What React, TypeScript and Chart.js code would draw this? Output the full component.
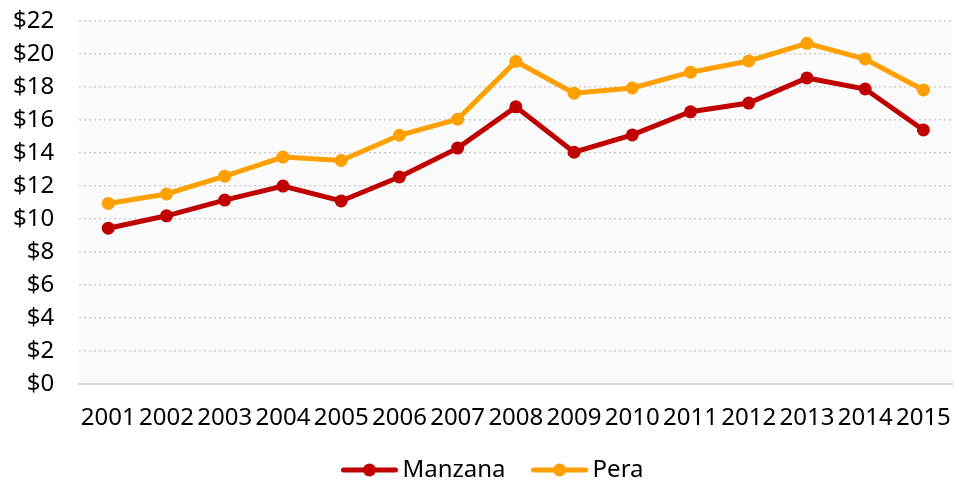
import React, { useEffect, useRef } from "react";
import { Chart, registerables } from "chart.js";

Chart.register(...registerables);

const years = ["2001","2002","2003","2004","2005","2006","2007","2008","2009","2010","2011","2012","2013","2014","2015"];
const manzana = [9.45, 10.2, 11.15, 12.0, 11.1, 12.55, 14.3, 16.8, 14.05, 15.1, 16.5, 17.03, 18.55, 17.88, 15.4];
const pera = [10.95, 11.52, 12.6, 13.76, 13.55, 15.08, 16.05, 19.55, 17.63, 17.94, 18.9, 19.58, 20.65, 19.7, 17.82];
const seriesNames = ["Manzana", "Pera"];
const seriesColors = ["#c00000", "#ffa000"];
const yMax = 22;
const yStep = 2;

const FONT = "'Noto Sans', sans-serif";

const bgPlugin = {
  id: "plotBg",
  beforeDraw(chart: any) {
    const { ctx, chartArea } = chart;
    ctx.save();
    ctx.fillStyle = "#fbfbfb";
    ctx.fillRect(chartArea.left, chartArea.top, chartArea.right - chartArea.left, chartArea.bottom - chartArea.top);
    ctx.restore();
  },
};

const legendPlugin = {
  id: "lineLegend",
  afterDraw(chart: any) {
    const { ctx } = chart;
    const lineW = 56, gapText = 5, gapItem = 26;
    ctx.save();
    ctx.font = `24px ${FONT}`;
    const ds = chart.data.datasets;
    const widths = ds.map((d: any) => ctx.measureText(d.label).width);
    let total = 0;
    ds.forEach((_: any, i: number) => {
      total += lineW + gapText + widths[i] + (i < ds.length - 1 ? gapItem : 0);
    });
    let x = chart.width / 2 + 13 - total / 2;
    const y = 470;
    ds.forEach((d: any, i: number) => {
      ctx.strokeStyle = d.borderColor;
      ctx.lineWidth = 5;
      ctx.lineCap = "round";
      ctx.beginPath();
      ctx.moveTo(x + 2, y);
      ctx.lineTo(x + lineW - 2, y);
      ctx.stroke();
      ctx.fillStyle = d.borderColor;
      ctx.beginPath();
      ctx.arc(x + lineW / 2, y, 6.5, 0, Math.PI * 2);
      ctx.fill();
      ctx.fillStyle = "#000";
      ctx.textBaseline = "middle";
      ctx.textAlign = "left";
      ctx.fillText(d.label, x + lineW + gapText, y);
      x += lineW + gapText + widths[i] + gapItem;
    });
    ctx.restore();
  },
};

export default function App() {
  const ref = useRef<HTMLCanvasElement>(null);
  useEffect(() => {
    document.body.style.margin = "0";
    const chart = new Chart(ref.current!, {
      type: "line",
      data: {
        labels: years,
        datasets: [manzana, pera].map((d, i) => ({
          label: seriesNames[i],
          data: d,
          borderColor: seriesColors[i],
          backgroundColor: seriesColors[i],
          borderWidth: 5,
          pointRadius: 6.5,
          pointHoverRadius: 6.5,
          pointBorderWidth: 0,
          tension: 0,
        })),
      },
      options: {
        animation: false,
        responsive: true,
        maintainAspectRatio: false,
        layout: { padding: { left: -12, right: 5, top: 21, bottom: 37 } },
        font: { family: FONT },
        scales: {
          x: {
            offset: true,
            afterFit: (s: any) => {
              s.paddingRight = 0;
            },
            grid: { display: false },
            border: { display: true, color: "#d9d9d9", width: 2 },
            ticks: {
              autoSkip: false,
              maxRotation: 0,
              minRotation: 0,
              color: "#000",
              padding: 12,
              font: { family: FONT, size: 24 },
            },
          },
          y: {
            min: 0,
            max: yMax,
            afterFit: (s: any) => {
              s.paddingTop = 0;
              s.paddingBottom = 0;
            },
            grid: {
              color: (c: any) => (c.tick && c.tick.value === 0 ? "rgba(0,0,0,0)" : "#cfcfcf"),
              lineWidth: 1.5,
              drawTicks: false,
            },
            border: { display: false, dash: [2, 3] },
            ticks: {
              autoSkip: false,
              stepSize: yStep,
              color: "#000",
              padding: 25,
              callback: (v: any) => "$" + v,
              font: { family: FONT, size: 24 },
            },
          },
        },
        plugins: {
          legend: { display: false },
          tooltip: { enabled: false },
        },
      },
      plugins: [bgPlugin, legendPlugin],
    });
    return () => chart.destroy();
  }, []);
  return (
    <div style={{ position: "fixed", left: 0, top: 0, width: 959, height: 482 }}>
      <canvas ref={ref} />
    </div>
  );
}
